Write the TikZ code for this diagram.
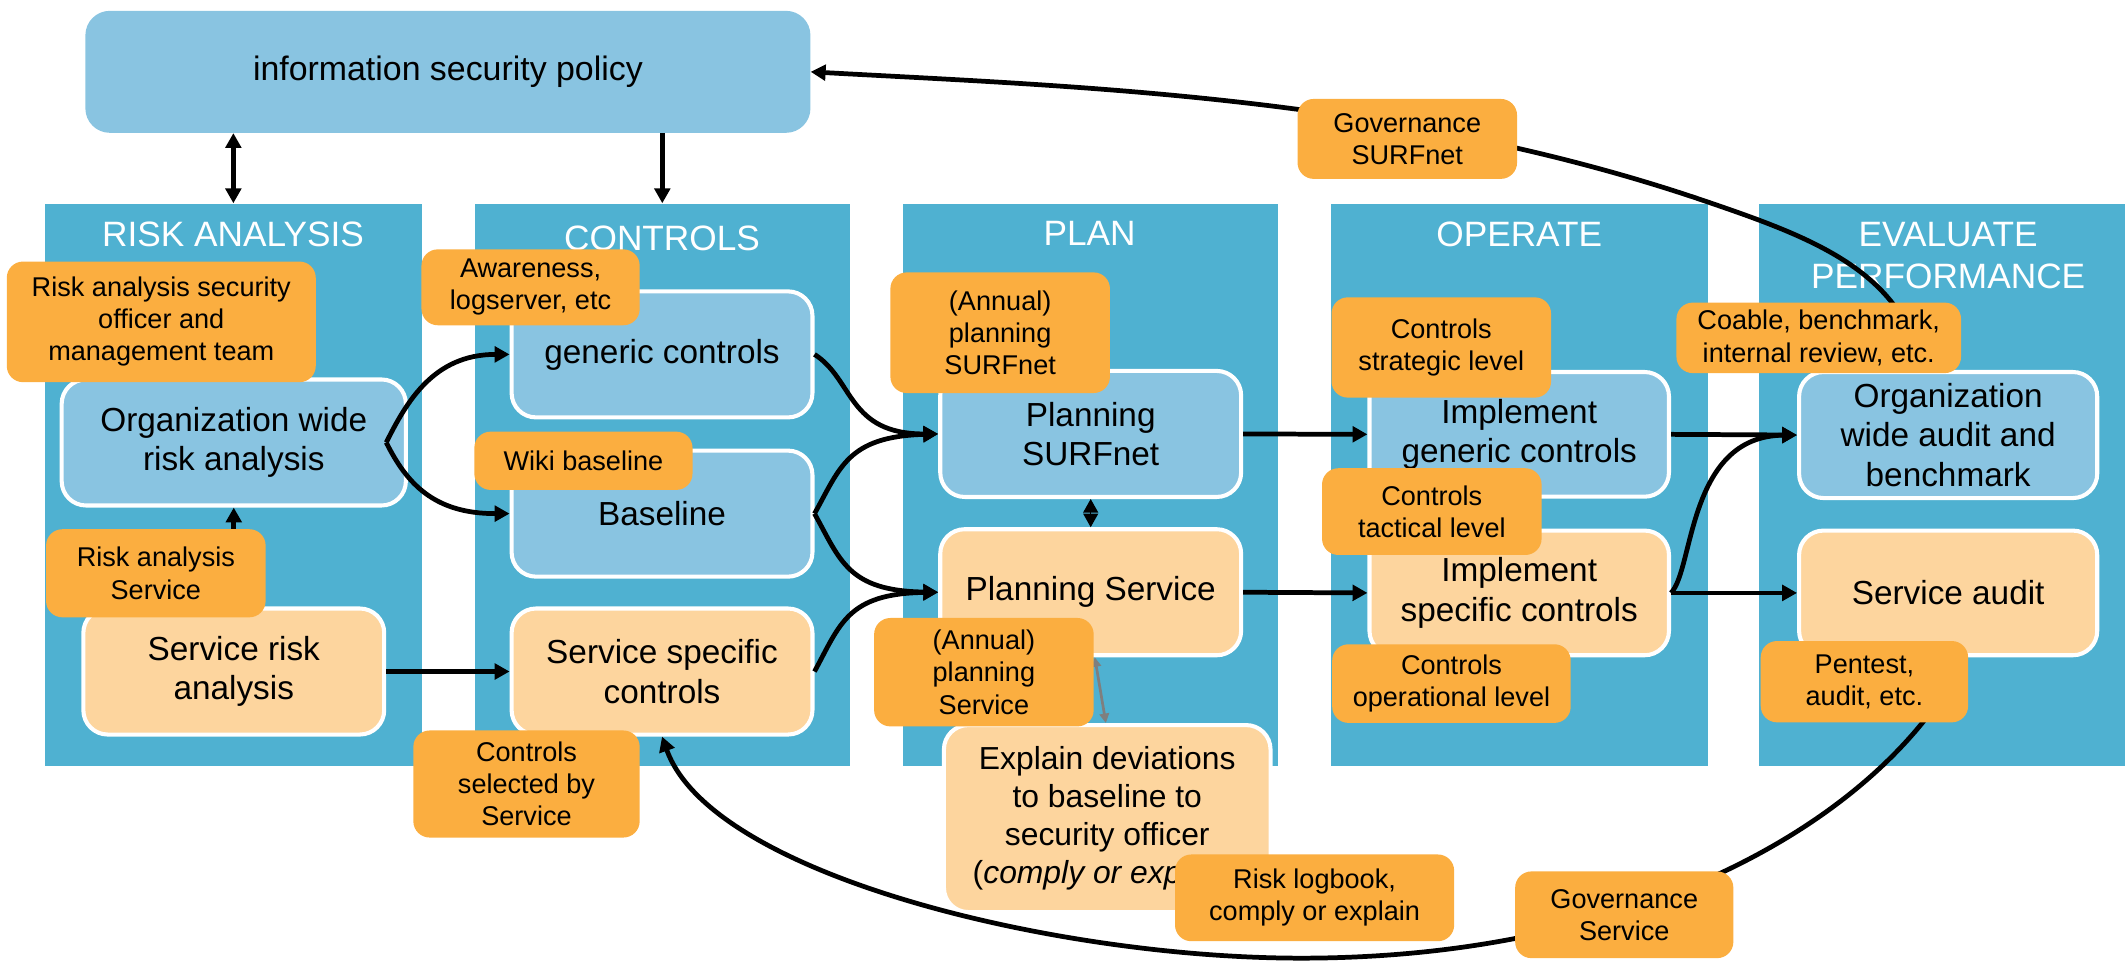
\documentclass[tikz,border=0pt]{standalone}
\usepackage{fontspec}
\setmainfont{Liberation Sans}
\usetikzlibrary{arrows.meta}
\definecolor{colbg}{HTML}{4FB1D1}
\definecolor{lblue}{HTML}{89C4E1}
\definecolor{lorange}{HTML}{FDD59E}
\definecolor{tagc}{HTML}{FBAE40}
\definecolor{grayarr}{HTML}{7F7F7F}
\begin{document}
\begin{tikzpicture}[x=1pt,y=-1pt,
  colbox/.style={fill=colbg, inner sep=0pt, anchor=north west, minimum height=415pt},
  ttl/.style={text=white, font=\fontsize{26}{30.6}\selectfont, align=center, inner sep=0pt},
  bbox/.style={draw=white, line width=3pt, rounded corners=18pt, align=center, inner sep=0pt, font=\fontsize{24.6}{29}\selectfont},
  bluebox/.style={bbox, fill=lblue},
  orbox/.style={bbox, fill=lorange},
  tagbox/.style={fill=tagc, rounded corners=12pt, align=center, inner sep=0pt, font=\fontsize{20}{23.7}\selectfont},
  arr/.style={line width=3.5pt, -{Triangle[length=11pt,width=11.5pt]}},
  darr/.style={line width=3.5pt, {Triangle[length=11pt,width=11.5pt]}-{Triangle[length=11pt,width=11.5pt]}},
]
\useasboundingbox (0,0) rectangle (1568,709);

% policy
\node[fill=lblue, rounded corners=18pt, minimum width=535pt, minimum height=90pt, inner sep=0pt, font=\fontsize{25}{30}\selectfont] (pol) at (330.5,53) {information security policy};

% columns
\node[colbox, minimum width=278pt] (c1) at (33,150) {};
\node[colbox, minimum width=277pt] (c2) at (350,150) {};
\node[colbox, minimum width=277pt] (c3) at (666,150) {};
\node[colbox, minimum width=278pt] (c4) at (982,150) {};
\node[colbox, minimum width=270pt] (c5) at (1298,150) {};

\node[ttl] (t1) at (172,173) {RISK ANALYSIS};
\node[ttl] (t2) at (488.5,176) {CONTROLS};
\node[ttl] (t3) at (804,172) {PLAN};
\node[ttl] (t4) at (1121,173) {OPERATE};
\node[ttl] (t5) at (1437.5,188.7) {EVALUATE\\PERFORMANCE};

% boxes
\node[bluebox, minimum width=254pt, minimum height=93pt] (org) at (172.5,326.5) {Organization wide\\risk analysis};
\node[orbox, minimum width=222pt, minimum height=93pt] (sra) at (172.5,495.5) {Service risk\\analysis};
\node[bluebox, minimum width=222pt, minimum height=93pt] (gc) at (488.5,261.5) {generic controls};
\node[bluebox, minimum width=222pt, minimum height=93pt] (bl) at (488.5,379) {Baseline};
\node[orbox, minimum width=222pt, minimum height=93pt] (ssc) at (488.5,495.5) {Service specific\\controls};
\node[bluebox, minimum width=222pt, minimum height=93pt] (ps) at (804.8,320.2) {Planning\\SURFnet};
\node[orbox, minimum width=222pt, minimum height=93pt] (psv) at (804.8,437) {Planning Service};
\node[orbox, minimum width=241pt, minimum height=138pt, font=\fontsize{23.5}{28}\selectfont] (exp) at (817,604) {Explain deviations\\to baseline to\\security officer\\(\textit{comply or explain})};
\node[bluebox, minimum width=221pt, minimum height=92pt] (igc) at (1121,320.5) {Implement\\generic controls};
\node[orbox, minimum width=221pt, minimum height=92pt] (isc) at (1121,437.5) {Implement\\specific controls};
\node[bluebox, minimum width=220pt, minimum height=93pt] (owa) at (1437.5,321) {Organization\\wide audit and\\benchmark};
\node[orbox, minimum width=220pt, minimum height=92pt] (sa) at (1437.5,437.5) {Service audit};

% connectors
\draw[darr] (pol.south -| c1.north) -- (c1.north);
\draw[arr] (pol.south -| c2.north) -- (c2.north);
\draw[arr] (sra.north) -- (org.south);
\draw[arr] (sra.east) -- (ssc.west);
\draw[arr] ([xshift=-16pt]org.east) .. controls +(15,-30) and +(-56,0) .. (gc.west);
\draw[arr] ([xshift=-16pt]org.east) .. controls +(15,30) and +(-56,0) .. (bl.west);
\draw[arr] (gc.east) .. controls +(29,18.5) and +(-67,0) .. (ps.west);
\draw[arr] (bl.east) .. controls +(19,-34) and +(-67,2) .. (ps.west);
\draw[arr] (bl.east) .. controls +(19,34) and +(-67,-1) .. (psv.west);
\draw[arr] (ssc.east) .. controls +(19,-35) and +(-67,1) .. (psv.west);
\draw[arr] (ps.east) -- (igc.west);
\draw[arr] (psv.east) -- (isc.west);
\draw[arr] (igc.east) -- (owa.west);
\draw[arr] (isc.east) -- (sa.west);
\draw[arr] (isc.east) .. controls +(17,-17.5) and +(-81,1) .. (owa.west);
\draw[line width=1pt, {Triangle[length=10pt,width=11pt]}-{Triangle[length=10pt,width=11pt]}] (ps.south) -- (psv.north);
\draw[grayarr, line width=2pt, {Triangle[length=7pt,width=7pt]}-{Triangle[length=7pt,width=7pt]}] ([xshift=3pt]psv.south) -- ([xshift=-1pt]exp.north);
\draw[arr] ([xshift=-19.5pt]owa.north) .. controls (1405,200) and (1335.7,174.9) .. (1260,149) .. controls (1033,71.2) and (797.6,64) .. (pol.east);
\draw[arr, line join=round] ([xshift=-13.5pt]sa.south) -- (1425,525) .. controls (1352,622) and (1190,707) .. (960,707) .. controls (780,707) and (525,646) .. (ssc.south);

% labels
\node[tagbox, minimum width=228pt, minimum height=89pt] (l1) at (119,237.5) {Risk analysis security\\officer and\\management team};
\node[tagbox, minimum width=162pt, minimum height=65pt] (l2) at (115,423) {Risk analysis\\Service};
\node[tagbox, minimum width=161pt, minimum height=56pt] (l3) at (391.5,212) {Awareness,\\logserver, etc};
\node[tagbox, minimum width=161pt, minimum height=43pt] (l4) at (430.5,340) {Wiki baseline};
\node[tagbox, minimum width=167pt, minimum height=79pt] (l5) at (388.5,578.5) {Controls\\selected by\\Service};
\node[tagbox, minimum width=162pt, minimum height=89pt] (l6) at (738,245.5) {(Annual)\\planning\\SURFnet};
\node[tagbox, minimum width=162pt, minimum height=80pt] (l7) at (726,496) {(Annual)\\planning\\Service};
\node[tagbox, minimum width=162pt, minimum height=74pt] (l8) at (1063.5,256.4) {Controls\\strategic level};
\node[tagbox, minimum width=162pt, minimum height=64pt] (l9) at (1056.5,377.5) {Controls\\tactical level};
\node[tagbox, minimum width=176pt, minimum height=58pt] (l10) at (1071,504.4) {Controls\\operational level};
\node[tagbox, minimum width=210pt, minimum height=52pt] (l11) at (1342,249.3) {Coable, benchmark,\\internal review, etc.};
\node[tagbox, minimum width=153pt, minimum height=60pt] (l12) at (1375.7,503) {Pentest,\\audit, etc.};
\node[tagbox, minimum width=162pt, minimum height=59pt] (l13) at (1038.4,102.5) {Governance\\SURFnet};
\node[tagbox, minimum width=206pt, minimum height=64pt] (l14) at (970,662.5) {Risk logbook,\\comply or explain};
\node[tagbox, minimum width=161pt, minimum height=64pt] (l15) at (1198.5,675) {Governance\\Service};
\end{tikzpicture}
\end{document}
